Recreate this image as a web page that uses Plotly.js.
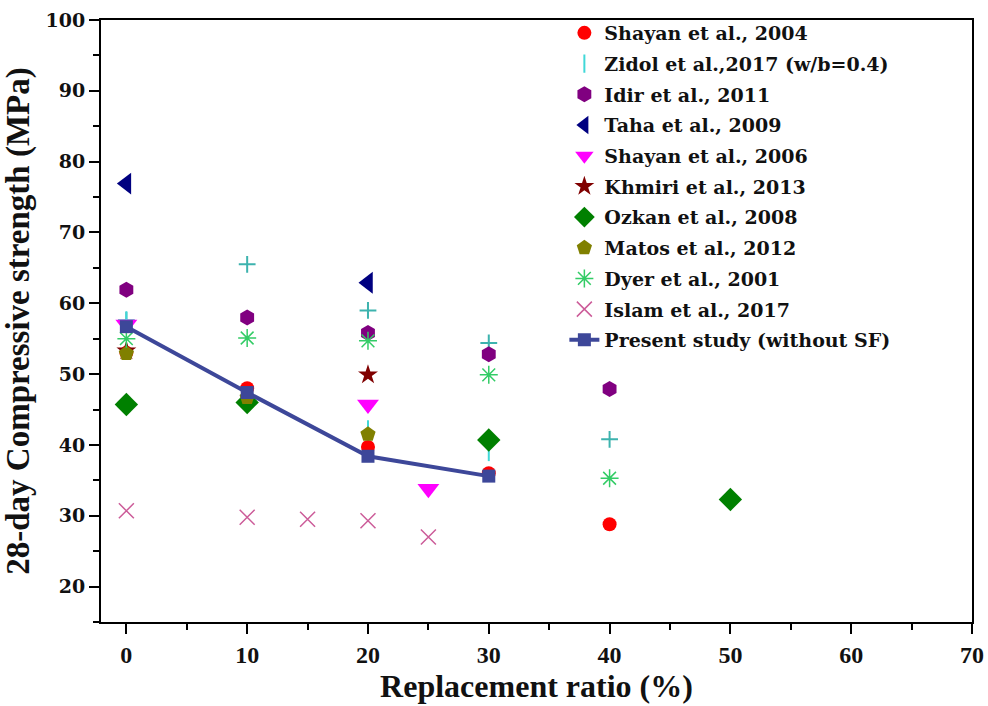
<!DOCTYPE html>
<html>
<head>
<meta charset="utf-8">
<script src="https://cdn.plot.ly/plotly-3.0.1.min.js"></script>
<style>html,body{margin:0;padding:0;background:#fff;}#chart{width:988px;height:706px;}</style>
</head>
<body>
<div id="chart"></div>
<script>
// ---- data ----
const shayan2004X = [0, 10, 20, 30, 40];
const shayan2004Y = [53.0, 48.0, 39.7, 36.0, 28.8];

const zidolX = [0, 20, 30];
const zidolY = [57.6, 42.2, 39.0];
const zidolPlusX = [0, 10, 20, 30, 40];
const zidolPlusY = [57.6, 65.5, 59.0, 54.4, 40.8];

const idirX = [0, 10, 20, 30, 40];
const idirY = [61.9, 58.0, 55.8, 52.8, 47.9];

const tahaX = [0, 20];
const tahaY = [76.9, 62.9];

const shayan2006X = [0, 20, 25];
const shayan2006Y = [57.0, 45.7, 33.8];

const khmiriX = [0, 20];
const khmiriY = [53.3, 49.9];

const ozkanX = [0, 10, 30, 50];
const ozkanY = [45.7, 46.0, 40.7, 32.3];

const matosX = [0, 10, 20];
const matosY = [52.9, 46.7, 41.5];

const dyerX = [0, 10, 20, 30, 40];
const dyerY = [55.0, 55.1, 54.7, 49.9, 35.3];

const islamX = [0, 10, 15, 20, 25];
const islamY = [30.7, 29.8, 29.5, 29.3, 27.0];

const presentX = [0, 10, 20, 30];
const presentY = [56.7, 47.4, 38.4, 35.6];

const seriesNames = [
  'Shayan et al., 2004', 'Zidol et al.,2017 (w/b=0.4)', 'Idir et al., 2011',
  'Taha et al., 2009', 'Shayan et al., 2006', 'Khmiri et al., 2013',
  'Ozkan et al., 2008', 'Matos et al., 2012', 'Dyer et al., 2001',
  'Islam et al., 2017', 'Present study (without SF)'
];

const xTicks = [0, 10, 20, 30, 40, 50, 60, 70];
const yTicks = [20, 30, 40, 50, 60, 70, 80, 90, 100];

// ---- traces ----
function sc(x, y, name, sym, color, size, extra) {
  return {
    x: x, y: y, name: name, type: 'scatter', mode: 'markers',
    legendgroup: name,
    marker: Object.assign({symbol: sym, color: color, size: size, line: {width: 0}}, extra || {})
  };
}

const traces = [
  sc(zidolPlusX, zidolPlusY, 'zidolplus', 'cross-thin', '#3DB3AE', 12, {line: {width: 2, color: '#3DB3AE'}}),
  sc(shayan2004X, shayan2004Y, seriesNames[0], 'circle', '#FF0000', 14),
  sc(zidolX, zidolY, seriesNames[1], 'line-ns', '#40D8D8', 13, {line: {width: 2, color: '#40D8D8'}}),
  sc(idirX, idirY, seriesNames[2], 'hexagon', '#800080', 16),
  sc(tahaX, tahaY, seriesNames[3], 'triangle-left', '#000080', 19),
  sc(shayan2006X, shayan2006Y, seriesNames[4], 'triangle-down', '#FF00FF', 19),
  sc(khmiriX, khmiriY, seriesNames[5], 'star', '#800000', 15),
  sc(ozkanX, ozkanY, seriesNames[6], 'diamond', '#008000', 18),
  sc(matosX, matosY, seriesNames[7], 'pentagon', '#808000', 16),
  sc(dyerX, dyerY, seriesNames[8], 'asterisk-open', '#33CC66', 15, {line: {width: 1.5, color: '#33CC66'}}),
  sc(islamX, islamY, seriesNames[9], 'x-thin-open', '#CC5C99', 15, {line: {width: 1.5, color: '#CC5C99'}}),
  {
    x: presentX, y: presentY, name: seriesNames[10], type: 'scatter', mode: 'lines+markers',
    legendgroup: seriesNames[10],
    line: {color: '#3D4799', width: 4},
    marker: {symbol: 'square', color: '#3D4799', size: 13}
  }
];
traces[0].showlegend = false;

const fam = 'Liberation Serif';
const layout = {
  width: 988, height: 706,
  paper_bgcolor: '#fff', plot_bgcolor: '#fff',
  margin: {l: 101, r: 16, t: 20, b: 84, autoexpand: false},
  showlegend: true,
  legend: {
    x: 0.532, y: 1.01, xanchor: 'left', yanchor: 'top',
    bgcolor: 'rgba(0,0,0,0)', borderwidth: 0,
    font: {family: 'DejaVu Serif', size: 19, color: '#111', weight: 'bold'},
    tracegroupgap: 3, itemsizing: 'trace'
  },
  xaxis: {
    range: [-2.1, 70], tickvals: xTicks, ticktext: xTicks.map(String),
    ticks: 'outside', ticklen: 10, tickwidth: 2, tickcolor: '#000',
    minor: {dtick: 5, tick0: 0, ticks: 'outside', ticklen: 6, tickwidth: 2, tickcolor: '#000', showgrid: false},
    showline: true, linecolor: '#000', linewidth: 2, mirror: true,
    showgrid: false, zeroline: false,
    tickfont: {family: fam, size: 24, color: '#111', weight: 'bold'},
    title: {text: 'Replacement ratio (%)', font: {family: fam, size: 32, color: '#111', weight: 'bold'}, standoff: 6}
  },
  yaxis: {
    range: [15, 100], tickvals: yTicks, ticktext: yTicks.map(String),
    ticks: 'outside', ticklen: 10, tickwidth: 2, tickcolor: '#000',
    minor: {dtick: 5, tick0: 0, ticks: 'outside', ticklen: 6, tickwidth: 2, tickcolor: '#000', showgrid: false},
    showline: true, linecolor: '#000', linewidth: 2, mirror: true,
    showgrid: false, zeroline: false,
    tickfont: {family: 'DejaVu Serif', size: 19, color: '#111', weight: 'bold'},
    title: {text: '28-day Compressive strength (MPa)', font: {family: fam, size: 33, color: '#111', weight: 'bold'}, standoff: 8}
  }
};

Plotly.newPlot('chart', traces, layout, {displayModeBar: false, staticPlot: true});
</script>
</body>
</html>
